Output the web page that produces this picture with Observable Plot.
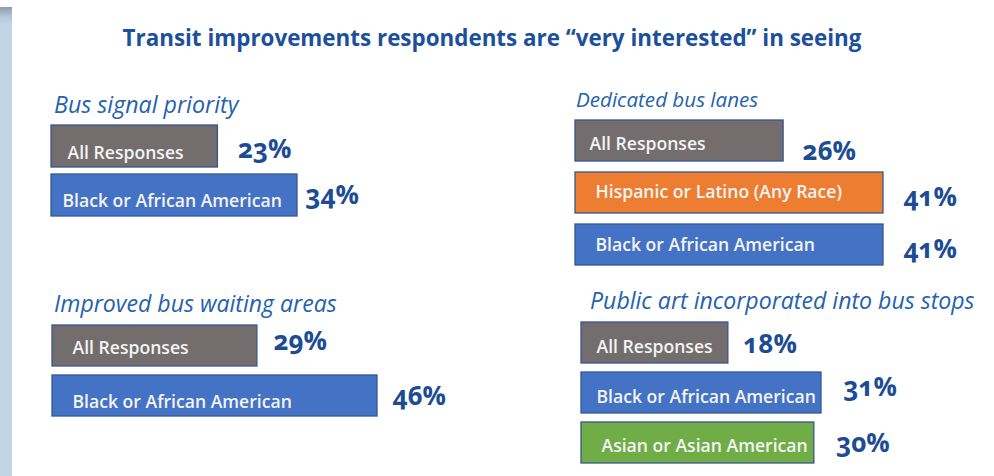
<!DOCTYPE html>
<html>
<head>
<meta charset="utf-8">
<script src="https://cdn.jsdelivr.net/npm/d3@7"></script>
<script src="https://cdn.jsdelivr.net/npm/@observablehq/plot@0.6"></script>
<style>
  html, body { margin: 0; padding: 0; background: #ffffff; }
  #wrap { position: relative; width: 994px; height: 476px; overflow: hidden; background: #ffffff; font-family: "Open Sans", Lato, sans-serif; }
  #stripe { position: absolute; left: 0; top: 7px; width: 12px; height: 469px;
            background: linear-gradient(#8e9cab 0px, #b5c7d9 10px, #c3d4e4 18px, #c3d4e4 100%); }
  .layer { position: absolute; left: 0; top: 0; }
  .num { font-variant-numeric: oldstyle-nums; }
</style>
</head>
<body>
<div id="wrap"><div id="stripe"></div></div>
<script>
// ---------- data ----------
const chartTitle = "Transit improvements respondents are \u201cvery interested\u201d in seeing";
const panelTitles = [
  "Bus signal priority",
  "Dedicated bus lanes",
  "Improved bus waiting areas",
  "Public art incorporated into bus stops"
];
const busSignalGroups = ["All Responses", "Black or African American"];
const busSignalValues = [23, 34];
const busLaneGroups = ["All Responses", "Hispanic or Latino (Any Race)", "Black or African American"];
const busLaneValues = [26, 41, 41];
const waitingGroups = ["All Responses", "Black or African American"];
const waitingValues = [29, 46];
const publicArtGroups = ["All Responses", "Black or African American", "Asian or Asian American"];
const publicArtValues = [18, 31, 30];

// ---------- styles ----------
const groupColors = {
  "All Responses": "#736e6d",
  "Black or African American": "#4472c4",
  "Hispanic or Latino (Any Race)": "#ed7d31",
  "Asian or Asian American": "#70ad47"
};
const fontFamily = "'Open Sans', Lato, sans-serif";

// ---------- layout (positions only) ----------
const layouts = [
  {titleX: 54, titleY: 113, titleSize: 23.2, xDomain: [0, 34], xRange: [51, 297], barTop: 124, step: 50, band: 42.5,
   nameDx: [16, 11], nameDy: [12, 11.5], valueDx: [20, 8], valueDy: [11, 8]},
  {titleX: 576, titleY: 107, titleSize: 20.6, xDomain: [-5.25, 41], xRange: [575, 883], barTop: 119, step: 52.5, band: 41,
   nameDx: [14, 20, 20], nameDy: [8.5, 5, 6], valueDx: [19, 20, 20], valueDy: [19, 13, 13]},
  {titleX: 54, titleY: 312, titleSize: 23.1, xDomain: [0, 46], xRange: [52, 377], barTop: 325, step: 50, band: 41,
   nameDx: [20, 20], nameDy: [7.5, 11.5], valueDx: [16, 15], valueDy: [4, 8.5]},
  {titleX: 590, titleY: 309, titleSize: 23.1, xDomain: [-2.5, 31], xRange: [581, 821], barTop: 322, step: 50, band: 41,
   nameDx: [15, 15, 20], nameDy: [9.5, 10, 8.5], valueDx: [15, 22, 22], valueDy: [9.5, 2.5, 8.5]}
];

const panels = [
  {title: panelTitles[0], groups: busSignalGroups, values: busSignalValues},
  {title: panelTitles[1], groups: busLaneGroups, values: busLaneValues},
  {title: panelTitles[2], groups: waitingGroups, values: waitingValues},
  {title: panelTitles[3], groups: publicArtGroups, values: publicArtValues}
];

const wrap = document.getElementById("wrap");

// headings layer
const svg = d3.select(wrap).append("svg")
  .attr("class", "layer").attr("width", 994).attr("height", 476);
svg.append("text")
  .attr("x", 492).attr("y", 46).attr("text-anchor", "middle")
  .attr("font-family", fontFamily).attr("font-weight", 700).attr("font-size", 22.4)
  .attr("fill", "#1c4f9c").text(chartTitle);

panels.forEach((p, k) => {
  const L = layouts[k];
  svg.append("text")
    .attr("x", L.titleX).attr("y", L.titleY)
    .attr("font-family", fontFamily).attr("font-style", "italic").attr("font-size", L.titleSize)
    .attr("fill", "#2561ad").text(p.title);

  const rows = p.groups.map((g, i) => ({group: g, value: p.values[i], i}));
  const n = rows.length;
  const pad = 1 - L.band / L.step;
  const r0 = L.barTop - pad * L.step;
  const r1 = r0 + L.step * (n + pad);
  const x0 = L.xDomain[0];

  const marks = [
    Plot.barX(rows, {x1: x0, x2: "value", y: "group", fill: d => groupColors[d.group],
                     stroke: "#35578f", strokeWidth: 1.3})
  ];
  rows.forEach((r, i) => {
    marks.push(Plot.text([r], {x: x0, y: "group", text: "group", textAnchor: "start", lineAnchor: "bottom",
      dx: L.nameDx[i], dy: L.nameDy[i], fill: "#f4f4f4", fontSize: 17.6, fontWeight: 600}));
    marks.push(Plot.text([r], {x: "value", y: "group", text: d => d.value + "%", textAnchor: "start", lineAnchor: "bottom",
      dx: L.valueDx[i], dy: L.valueDy[i], fill: "#1d4b94", fontSize: 26, fontWeight: 700, className: "num"}));
  });

  const chart = Plot.plot({
    width: 994, height: 476, margin: 0,
    style: {position: "absolute", left: "0px", top: "0px", fontFamily: fontFamily, background: "transparent", overflow: "visible"},
    x: {domain: L.xDomain, range: L.xRange, axis: null},
    y: {type: "band", domain: p.groups, range: [r0, r1], padding: pad, axis: null},
    color: {type: "identity"},
    marks
  });
  wrap.appendChild(chart);
});
</script>
</body>
</html>
